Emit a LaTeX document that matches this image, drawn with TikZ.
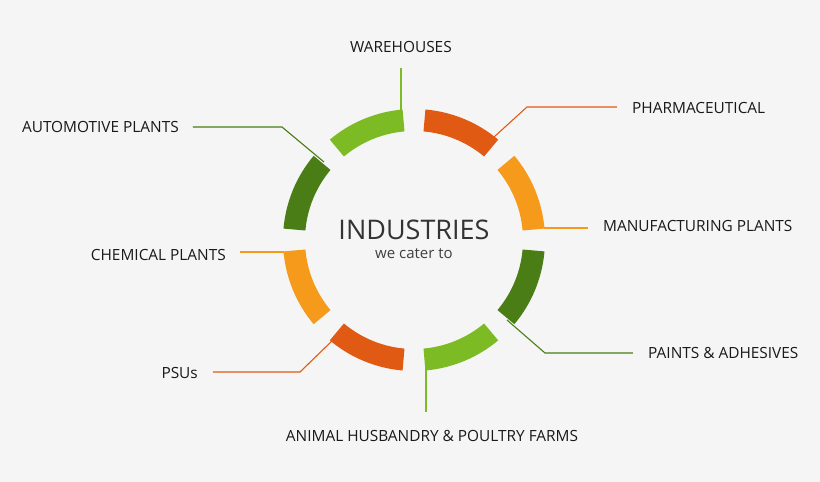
\documentclass[tikz,border=0pt]{standalone}
\usepackage{fontspec}
\setmainfont{Open Sans}
\definecolor{lgreen}{HTML}{7DBB24}
\definecolor{dgreen}{HTML}{4A7D16}
\definecolor{redor}{HTML}{E05A14}
\definecolor{orng}{HTML}{F59A1A}
\definecolor{bg}{HTML}{F5F5F5}
\begin{document}
\begin{tikzpicture}[x=1pt,y=1pt,
           label_style/.style={font=\fontsize{15.4}{17}\selectfont,text=black!90,inner sep=0pt},
           line_style/.style={line width=1.1pt}]
            \fill[bg] (-414,-242) rectangle (406,240);
            \useasboundingbox (-414,-242) rectangle (406,240);
            % ring segments
            \foreach \k/\c in {0/orng,1/redor,2/lgreen,3/dgreen,4/orng,5/redor,6/lgreen,7/dgreen}{
              \pgfmathsetmacro\a{5+45*\k}
              \fill[\c] (\a:109) -- (\a:131) arc[start angle=\a,end angle=\a+35,radius=131]
                -- (\a+35:109) arc[start angle=\a+35,end angle=\a,radius=109] -- cycle;
            }
            \node[font=\fontsize{27}{29}\selectfont,text=black!80] (title) at (0,10) {INDUSTRIES};
            \node[font=\fontsize{15}{17}\selectfont,text=black!75] (sub) at (0,-14) {we cater to};
            % labels
            \node[label_style] (ware) at (-13,193) {WAREHOUSES};
            \node[label_style,anchor=west] (pharma) at (218,132) {PHARMACEUTICAL};
            \node[label_style,anchor=west] (manu) at (189,14) {MANUFACTURING PLANTS};
            \node[label_style,anchor=west] (paint) at (234,-113) {PAINTS \& ADHESIVES};
            \node[label_style] (animal) at (18,-196) {ANIMAL HUSBANDRY \& POULTRY FARMS};
            \node[label_style,anchor=east] (psu) at (-216,-133) {PSUs};
            \node[label_style,anchor=east] (chem) at (-188,-15) {CHEMICAL PLANTS};
            \node[label_style,anchor=east] (auto) at (-235,113) {AUTOMOTIVE PLANTS};
            % connector ends
            \coordinate (w1) at (-13,118); \coordinate (w2) at (-13,172);
            \coordinate (p1) at (80,103); \coordinate (p2) at (113,133); \coordinate (p3) at (203,133);
            \coordinate (m1) at (130,12); \coordinate (m2) at (174,12);
            \coordinate (d1) at (93,-80); \coordinate (d2) at (131,-113); \coordinate (d3) at (219,-113);
            \coordinate (a1) at (12,-112); \coordinate (a2) at (12,-172);
            \coordinate (u1) at (-81,-100); \coordinate (u2) at (-114,-132); \coordinate (u3) at (-201,-132);
            \coordinate (c1) at (-130,-12); \coordinate (c2) at (-174,-12);
            \coordinate (t1) at (-90,78); \coordinate (t2) at (-132,113); \coordinate (t3) at (-221,113);
            \draw[line_style,lgreen] (w1) -- (w2);
            \draw[line_style,redor] (p1) -- (p2) -- (p3);
            \draw[line_style,orng] (m1) -- (m2);
            \draw[line_style,dgreen] (d1) -- (d2) -- (d3);
            \draw[line_style,lgreen] (a1) -- (a2);
            \draw[line_style,redor] (u1) -- (u2) -- (u3);
            \draw[line_style,orng] (c1) -- (c2);
            \draw[line_style,dgreen] (t1) -- (t2) -- (t3);
        \end{tikzpicture}
\end{document}
